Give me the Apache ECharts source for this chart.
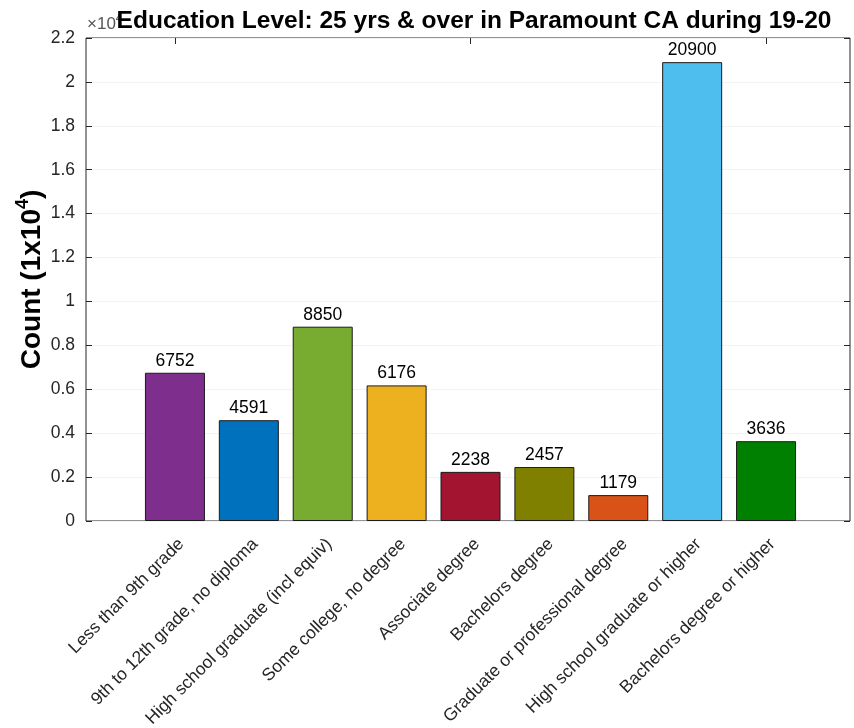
<!DOCTYPE html>
<html>
<head>
<meta charset="utf-8">
<script src="https://cdn.jsdelivr.net/npm/echarts@6/dist/echarts.min.js"></script>
<style>
html,body{margin:0;padding:0;background:#fff;}
#chart{width:854px;height:728px;}
</style>
</head>
<body>
<div id="chart"></div>
<script>
const categories = [
  'Less than 9th grade',
  '9th to 12th grade, no diploma',
  'High school graduate (incl equiv)',
  'Some college, no degree',
  'Associate degree',
  'Bachelors degree',
  'Graduate or professional degree',
  'High school graduate or higher',
  'Bachelors degree or higher'
];
const counts = [6752, 4591, 8850, 6176, 2238, 2457, 1179, 20900, 3636];
const barColors = ['#7E2F8E', '#0072BD', '#77AC30', '#EDB120', '#A2142F', '#808000', '#D95319', '#4DBEEE', '#008000'];
const yMin = 0, yMax = 22000, yStep = 2000;

const FONT = '"Liberation Sans", Arial, Helvetica, sans-serif';
const TXT = '#262626';
const AX = '#262626';

const chart = echarts.init(document.getElementById('chart'), null, {renderer: 'canvas'});

const gTop = 38, gBottom = 207;
const option = {
  backgroundColor: '#ffffff',
  animation: false,
  title: {
    text: 'Education Level: 25 yrs & over in Paramount CA during 19-20',
    left: 469, top: 4, textAlign: 'center',
    textStyle: {fontFamily: FONT, fontWeight: 'bold', fontSize: 24.5, color: '#000'}
  },
  graphic: [{
    type: 'text', left: 87, top: 13, z: 0, zlevel: 0,
    style: {
      text: '{a|×10}{s|4}',
      rich: {
        a: {fontFamily: FONT, fontSize: 17, fill: '#555', verticalAlign: 'bottom', lineHeight: 20},
        s: {fontFamily: FONT, fontSize: 12, fill: '#555', verticalAlign: 'top', lineHeight: 20}
      }
    }
  }],
  grid: [
    {left: 86, right: 4, top: gTop, bottom: gBottom, show: true, borderColor: AX, borderWidth: 1,
     backgroundColor: 'transparent', containLabel: false, outerBoundsMode: 'none'},
    {left: 138, width: 665, top: gTop, bottom: gBottom, containLabel: false, outerBoundsMode: 'none'}
  ],
  xAxis: [
    {gridIndex: 0, type: 'value', min: 0, max: 1, show: false},
    {gridIndex: 1, type: 'category', data: categories, position: 'bottom',
     axisLine: {show: false},
     axisTick: {show: true, inside: true, length: 6, alignWithLabel: true, lineStyle: {color: AX}},
     axisLabel: {rotate: 45, interval: 0, margin: 14, verticalAlign: 'top', fontFamily: FONT, fontSize: 17.5, color: TXT},
     splitLine: {show: false}},
    {gridIndex: 1, type: 'category', data: categories, position: 'top',
     axisLine: {show: false},
     axisTick: {show: true, inside: true, length: 6, alignWithLabel: true, lineStyle: {color: AX}},
     axisLabel: {show: false}}
  ],
  yAxis: [
    {gridIndex: 0, type: 'value', min: yMin, max: yMax, interval: yStep,
     name: '{c|Count (1x10}{s|4}{c|)}', nameLocation: 'middle', nameGap: 40, nameRotate: 90,
     nameMoveOverlap: false,
     nameTextStyle: {
       rich: {
         c: {fontFamily: FONT, fontWeight: 'bold', fontSize: 28, color: '#000', lineHeight: 32, verticalAlign: 'bottom'},
         s: {fontFamily: FONT, fontWeight: 'bold', fontSize: 18, color: '#000', lineHeight: 32, verticalAlign: 'top'}
       }
     },
     axisLine: {show: false},
     axisTick: {show: true, inside: true, length: 6, lineStyle: {color: AX}},
     axisLabel: {margin: 11, fontFamily: FONT, fontSize: 17.5, color: TXT,
       formatter: v => String(Math.round(v / 1000) / 10)},
     splitLine: {show: true, lineStyle: {color: '#f3f3f3', width: 1}}},
    {gridIndex: 0, type: 'value', min: yMin, max: yMax, interval: yStep, position: 'right',
     axisLine: {show: false},
     axisTick: {show: true, inside: true, length: 6, lineStyle: {color: AX}},
     axisLabel: {show: false}, splitLine: {show: false}},
    {gridIndex: 1, type: 'value', min: yMin, max: yMax, interval: yStep, show: false}
  ],
  series: [{
    type: 'bar',
    xAxisIndex: 1, yAxisIndex: 2,
    barWidth: 60,
    data: counts.map((v, i) => ({value: v, itemStyle: {color: barColors[i]}})),
    itemStyle: {borderColor: '#1a1a1a', borderWidth: 1},
    label: {show: true, position: 'top', distance: 3, fontFamily: FONT, fontSize: 17.5, color: '#000'}
  }]
};
chart.setOption(option);
</script>
</body>
</html>
